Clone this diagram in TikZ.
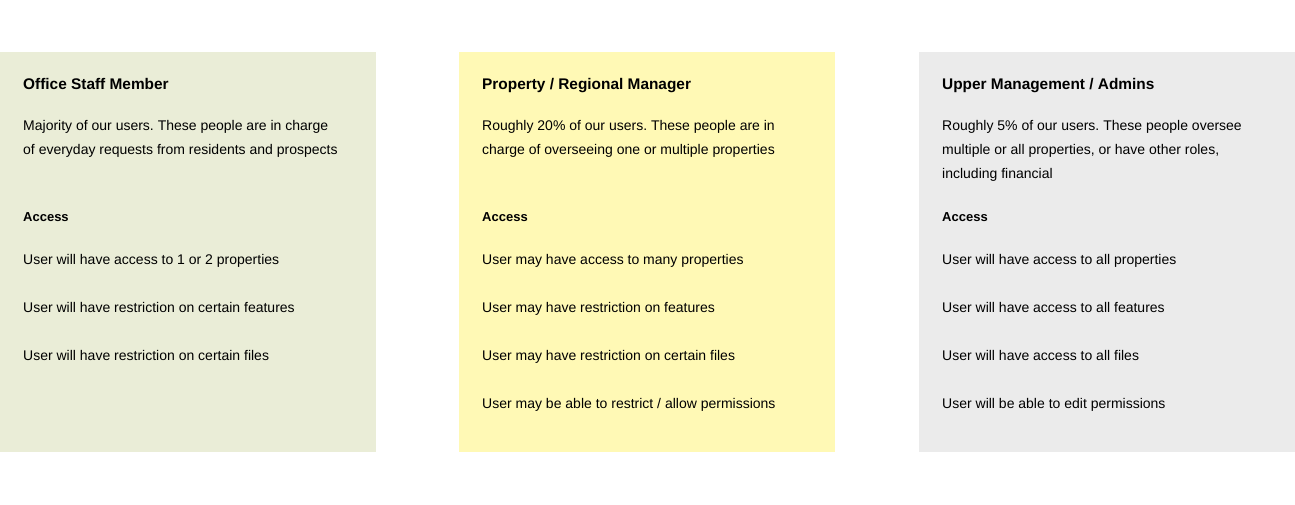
\documentclass[tikz,border=0pt]{standalone}
\usepackage{fontspec}
\setmainfont{Liberation Sans}
\frenchspacing

\definecolor{staffgreen}{HTML}{EAEDD7}
\definecolor{managerylw}{HTML}{FFF9B5}
\definecolor{admingrey}{HTML}{EBEBEB}

\begin{document}
\begin{tikzpicture}[
    x=1pt, y=-1pt,
    title_txt/.style={anchor=base west, inner sep=0pt, font=\fontsize{15.4}{18}\selectfont\bfseries},
    body_txt/.style={anchor=north west, inner sep=0pt, align=left, font=\fontsize{14}{24}\selectfont},
    head_txt/.style={anchor=base west, inner sep=0pt, font=\fontsize{13}{16}\selectfont\bfseries},
    item_txt/.style={anchor=base west, inner sep=0pt, font=\fontsize{14}{16}\selectfont}
]
    \useasboundingbox (0,0) rectangle (1295,504);
    % Paneles
    \fill[staffgreen] (0,52) rectangle (376,452);
    \fill[managerylw] (459,52) rectangle (835,452);
    \fill[admingrey] (919,52) rectangle (1295,452);
    % Office Staff Member
    \node[title_txt] (staff_title) at (23,89.5) {Office Staff Member};
    \node[body_txt] (staff_desc) at (23,120) {Majority of our users. These people are in charge\\of everyday requests from residents and prospects};
    \node[head_txt] (staff_access) at (23,221) {Access};
    \node[item_txt] (staff_a) at (23,264) {User will have access to 1 or 2 properties};
    \node[item_txt] (staff_b) at (23,312) {User will have restriction on certain features};
    \node[item_txt] (staff_c) at (23,360) {User will have restriction on certain files};
    % Property / Regional Manager
    \node[title_txt] (mgr_title) at (482,89.5) {Property / Regional Manager};
    \node[body_txt] (mgr_desc) at (482,120) {Roughly 20\% of our users. These people are in\\charge of overseeing one or multiple properties};
    \node[head_txt] (mgr_access) at (482,221) {Access};
    \node[item_txt] (mgr_a) at (482,264) {User may have access to many properties};
    \node[item_txt] (mgr_b) at (482,312) {User may have restriction on features};
    \node[item_txt] (mgr_c) at (482,360) {User may have restriction on certain files};
    \node[item_txt] (mgr_d) at (482,408) {User may be able to restrict / allow permissions};
    % Upper Management / Admins
    \node[title_txt] (adm_title) at (942,89.5) {Upper Management / Admins};
    \node[body_txt] (adm_desc) at (942,120) {Roughly 5\% of our users. These people oversee\\multiple or all properties, or have other roles,\\including financial};
    \node[head_txt] (adm_access) at (942,221) {Access};
    \node[item_txt] (adm_a) at (942,264) {User will have access to all properties};
    \node[item_txt] (adm_b) at (942,312) {User will have access to all features};
    \node[item_txt] (adm_c) at (942,360) {User will have access to all files};
    \node[item_txt] (adm_d) at (942,408) {User will be able to edit permissions};
\end{tikzpicture}
\end{document}
